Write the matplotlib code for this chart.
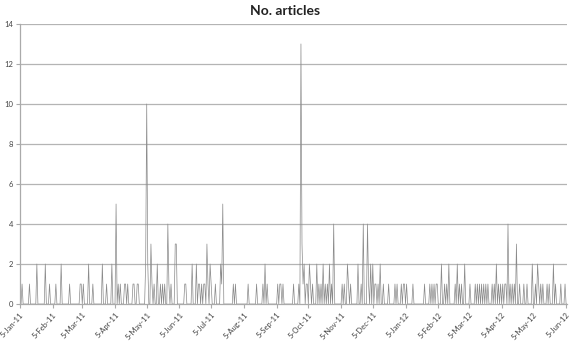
import matplotlib
matplotlib.use("Agg")
import matplotlib.pyplot as plt
import pandas as pd

# Days with articles (all other days are 0)
article_dates = [
    "2011-01-07", "2011-01-14", "2011-01-21", "2011-01-29", "2011-02-02", "2011-02-08",
    "2011-02-13", "2011-02-21", "2011-03-03", "2011-03-04", "2011-03-06", "2011-03-11",
    "2011-03-15", "2011-03-24", "2011-03-28", "2011-04-02", "2011-04-06", "2011-04-08",
    "2011-04-10", "2011-04-14", "2011-04-15", "2011-04-17", "2011-04-22", "2011-04-23",
    "2011-04-26", "2011-04-27", "2011-05-04", "2011-05-05", "2011-05-06", "2011-05-09",
    "2011-05-10", "2011-05-12", "2011-05-15", "2011-05-18", "2011-05-20", "2011-05-22",
    "2011-05-25", "2011-05-26", "2011-05-28", "2011-06-01", "2011-06-02", "2011-06-10",
    "2011-06-11", "2011-06-17", "2011-06-21", "2011-06-23", "2011-06-24", "2011-06-26",
    "2011-06-28", "2011-06-29", "2011-07-01", "2011-07-02", "2011-07-04", "2011-07-05",
    "2011-07-09", "2011-07-14", "2011-07-15", "2011-07-16", "2011-07-26", "2011-07-28",
    "2011-08-09", "2011-08-17", "2011-08-23", "2011-08-25", "2011-08-27", "2011-09-06",
    "2011-09-08", "2011-09-09", "2011-09-11", "2011-09-21", "2011-09-26", "2011-09-28",
    "2011-09-29", "2011-09-30", "2011-10-01", "2011-10-03", "2011-10-04", "2011-10-06",
    "2011-10-07", "2011-10-09", "2011-10-13", "2011-10-15", "2011-10-17", "2011-10-19",
    "2011-10-21", "2011-10-23", "2011-10-25", "2011-10-27", "2011-10-29", "2011-11-06",
    "2011-11-08", "2011-11-11", "2011-11-12", "2011-11-14", "2011-11-21", "2011-11-24",
    "2011-11-26", "2011-11-30", "2011-12-01", "2011-12-03", "2011-12-05", "2011-12-07",
    "2011-12-08", "2011-12-10", "2011-12-12", "2011-12-15", "2011-12-20", "2011-12-26",
    "2011-12-28", "2012-01-01", "2012-01-03", "2012-01-04", "2012-01-06", "2012-01-12",
    "2012-01-23", "2012-01-28", "2012-01-30", "2012-02-01", "2012-02-03", "2012-02-04",
    "2012-02-08", "2012-02-11", "2012-02-13", "2012-02-15", "2012-02-21", "2012-02-23",
    "2012-02-25", "2012-02-27", "2012-03-01", "2012-03-06", "2012-03-11", "2012-03-13",
    "2012-03-15", "2012-03-17", "2012-03-19", "2012-03-21", "2012-03-23", "2012-03-27",
    "2012-03-29", "2012-03-31", "2012-04-02", "2012-04-04", "2012-04-06", "2012-04-08",
    "2012-04-09", "2012-04-11", "2012-04-13", "2012-04-15", "2012-04-17", "2012-04-19",
    "2012-04-22", "2012-04-26", "2012-04-29", "2012-05-04", "2012-05-07", "2012-05-09",
    "2012-05-10", "2012-05-12", "2012-05-14", "2012-05-18", "2012-05-20", "2012-05-24",
    "2012-05-26", "2012-05-31", "2012-06-04",
]
article_counts = [
    1, 1, 2, 2, 1, 1,
    2, 1, 1, 1, 1, 2,
    1, 2, 1, 2, 5, 1,
    1, 1, 1, 1, 1, 1,
    1, 1, 2, 10, 2, 3,
    1, 1, 2, 1, 1, 1,
    4, 1, 1, 3, 3, 1,
    1, 2, 2, 1, 1, 1,
    1, 1, 3, 1, 2, 1,
    1, 2, 1, 5, 1, 1,
    1, 1, 1, 2, 1, 1,
    1, 1, 1, 1, 1, 13,
    3, 1, 2, 1, 1, 2,
    1, 1, 2, 1, 1, 2,
    1, 1, 2, 1, 4, 1,
    1, 2, 1, 1, 2, 1,
    4, 4, 1, 2, 2, 1,
    1, 1, 2, 1, 1, 1,
    1, 1, 1, 1, 1, 1,
    1, 1, 1, 1, 1, 1,
    2, 1, 1, 2, 1, 2,
    1, 1, 2, 1, 1, 1,
    1, 1, 1, 1, 1, 1,
    1, 2, 1, 1, 1, 1,
    1, 4, 1, 1, 1, 3,
    1, 1, 1, 2, 1, 2,
    1, 1, 1, 1, 1, 2,
    1, 1, 1,
]
start_date = "2011-01-05"
end_date = "2012-06-06"
tick_dates = pd.date_range("2011-01-01", "2012-06-01", freq="MS") + pd.Timedelta(days=4)
title = "No. articles"

days = pd.date_range(start_date, end_date, freq="D")
series = pd.Series(0, index=days, dtype=float)
series.loc[pd.to_datetime(article_dates)] = article_counts

fig = plt.figure(figsize=(5.70, 3.42), dpi=100)
ax = fig.add_axes([0.035, 0.111, 0.96, 0.819])

for y in range(2, 15, 2):
    ax.axhline(y, color="#b4b4b4", lw=0.9, zorder=1)

ax.plot(series.index, series.values, color="#8a8a8a", lw=0.5, zorder=2)

ax.set_ylim(0, 14)
ax.set_yticks(range(0, 15, 2))
ax.set_xlim(pd.Timestamp(start_date), pd.Timestamp(end_date))

ax.set_xticks(tick_dates)
ax.set_xticklabels([t.strftime("%-d-%b-%y") for t in tick_dates], rotation=48,
                   ha="right", rotation_mode="anchor", fontsize=5.5,
                   family="Lato", color="#444444")
ax.tick_params(axis="y", labelsize=5.5, labelcolor="#444444", length=3, color="#aaaaaa", pad=2)
for lab in ax.get_yticklabels():
    lab.set_family("Lato")
ax.tick_params(axis="x", length=3, color="#aaaaaa", pad=2)

for s in ["top", "right"]:
    ax.spines[s].set_visible(False)
for s in ["left", "bottom"]:
    ax.spines[s].set_color("#aaaaaa")
    ax.spines[s].set_linewidth(0.9)

fig.text(0.5, 0.968, title, ha="center", va="center", fontsize=10,
         fontweight="bold", family="Lato", color="#222222")

fig.savefig("out.png", dpi=100)
